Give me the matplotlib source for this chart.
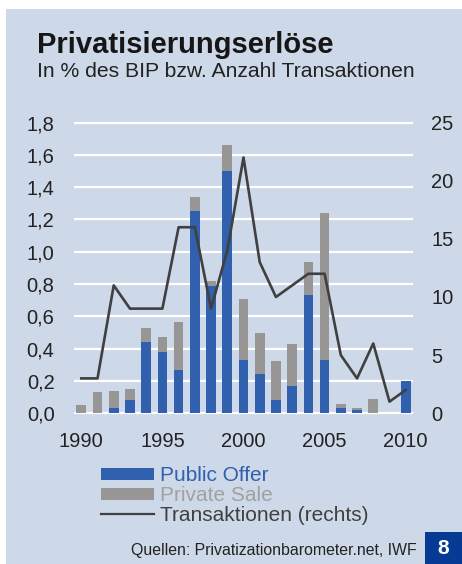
import numpy as np
import matplotlib.pyplot as plt
from matplotlib.patches import Rectangle, Patch
from matplotlib.lines import Line2D

plt.rcParams['font.family'] = ['Liberation Sans', 'DejaVu Sans']

# Privatisierungserlöse in % des BIP, Anzahl Transaktionen
years = np.arange(1990, 2011)
public_offer = [0.00, 0.00, 0.035, 0.08, 0.44, 0.38, 0.27, 1.25, 0.79, 1.50,
                0.33, 0.245, 0.08, 0.17, 0.73, 0.33, 0.035, 0.02, 0.00, 0.00, 0.20]
private_sale = [0.05, 0.13, 0.10, 0.07, 0.09, 0.09, 0.295, 0.09, 0.03, 0.16,
                0.38, 0.255, 0.245, 0.26, 0.205, 0.91, 0.023, 0.01, 0.09, 0.00, 0.00]
transactions = [3, 3, 11, 9, 9, 9, 16, 16, 9, 14, 22, 13, 10, 11, 12, 12, 5, 3, 6, 1, 2]

left_ticks = [0.0, 0.2, 0.4, 0.6, 0.8, 1.0, 1.2, 1.4, 1.6, 1.8]
right_ticks = [0, 5, 10, 15, 20, 25]
year_ticks = [1990, 1995, 2000, 2005, 2010]

bg = '#CDD8E8'
blue = '#3060AE'
grey = '#989694'
dark = '#404040'

fig = plt.figure(figsize=(4.62, 5.64), dpi=100)
fig.patch.set_facecolor('white')
fig.add_artist(Rectangle((6 / 462, 0), 1, 1 - 9 / 564, transform=fig.transFigure,
                         facecolor=bg, edgecolor='none', zorder=0))

ax = fig.add_axes([74 / 462, 0.2644, (413 - 74) / 462, 0.7855 - 0.2644])
ax.set_facecolor('none')
for s in ax.spines.values():
    s.set_visible(False)

ax.bar(years, public_offer, width=0.6, color=blue, zorder=3)
ax.bar(years, private_sale, width=0.6, bottom=public_offer, color=grey, zorder=3)

ax.set_ylim(-0.01, 1.81)
ax.set_xlim(1989.55, 2010.45)
ax.set_yticks(left_ticks)
ax.set_yticklabels([f'{v:.1f}'.replace('.', ',') for v in left_ticks])
ax.set_xticks(year_ticks)
ax.grid(axis='y', color='white', linewidth=1.6, zorder=1)
ax.tick_params(axis='both', length=0, labelsize=14.5, colors='#222222')
ax.tick_params(axis='y', pad=14)
ax.tick_params(axis='x', pad=12)

ax2 = ax.twinx()
ax2.set_facecolor('none')
for s in ax2.spines.values():
    s.set_visible(False)
ax2.plot(years, transactions, color=dark, linewidth=1.9, zorder=4)
ax2.set_ylim(-0.01 * 25 / 1.8, 1.81 * 25 / 1.8)
ax2.set_yticks(right_ticks)
ax2.tick_params(axis='y', length=0, labelsize=14.5, colors='#222222', pad=13)

fig.text(37 / 462, 1 - 53 / 564, 'Privatisierungserlöse', fontsize=21,
         fontweight='heavy', color='#161616')
fig.text(37 / 462, 1 - 77 / 564, 'In % des BIP bzw. Anzahl Transaktionen',
         fontsize=15.2, color='#222222')

handles = [Patch(facecolor=blue), Patch(facecolor=grey),
           Line2D([0], [0], color=dark, linewidth=1.6)]
fig.legend(handles, ['Public Offer', 'Private Sale', 'Transaktionen (rechts)'],
           loc='upper left', bbox_to_anchor=(91 / 462, 1 - 456 / 564),
           frameon=False, fontsize=15, handlelength=2.5, handleheight=0.5,
           handletextpad=0.3, labelspacing=0.04, borderpad=0,
           labelcolor=[blue, '#A3A19F', dark])

fig.text(417 / 462, 1 - 551 / 564, 'Quellen: Privatizationbarometer.net, IWF',
         fontsize=11.4, color='#222222', ha='right', va='center')
fig.add_artist(Rectangle((425 / 462, 0), 37 / 462, 32 / 564, transform=fig.transFigure,
                         facecolor='#063A94', edgecolor='none'))
fig.text(443.5 / 462, 16 / 564, '8', fontsize=15, fontweight='bold', color='white',
         ha='center', va='center')

fig.savefig('out.png', dpi=100)
